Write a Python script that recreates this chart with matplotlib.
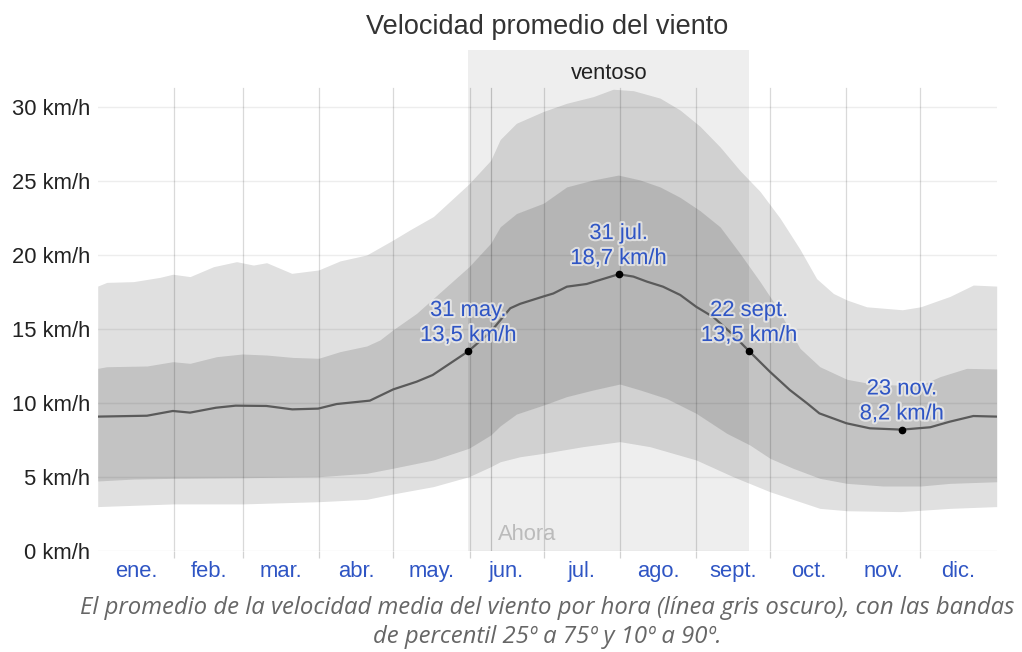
import matplotlib
matplotlib.use("Agg")
import matplotlib.pyplot as plt
import matplotlib.patheffects as pe
import numpy as np

plt.rcParams['font.family'] = ['Liberation Sans', 'DejaVu Sans']

# day of year (0 = 1 ene.) and km/h
mean_days = [0, 20, 30.5, 37.5, 48, 56, 68.5, 79, 89.5, 97, 110.5, 120, 129.5, 136, 150.5,
             159.5, 167.5, 171.5, 181, 185, 190.5, 198.5, 211.5, 217.5, 223, 229.5, 236.5,
             243, 250, 258, 264.5, 273, 281, 288, 293, 304, 313.5, 326.5, 338, 346, 355.5, 365]
mean_kmh = [9.08, 9.14, 9.46, 9.35, 9.68, 9.82, 9.80, 9.57, 9.62, 9.93, 10.16, 10.92, 11.44, 11.89, 13.5,
            14.8, 16.4, 16.7, 17.2, 17.4, 17.86, 18.04, 18.7, 18.54, 18.2, 17.86, 17.3,
            16.5, 15.8, 14.6, 13.5, 12.1, 10.88, 9.98, 9.3, 8.63, 8.29, 8.2, 8.36, 8.74, 9.12, 9.08]

p90_days = [0, 3.7, 14.5, 25.3, 30.5, 37.5, 47, 56.4, 63.2, 68.6, 78.8, 89.7, 98.4, 109.2, 119.8,
            126.8, 136.3, 150.7, 159.6, 163.4, 170, 181, 190.4, 201.2, 209.3, 217.5, 228.3, 236.4,
            244.5, 252.7, 260.8, 268.9, 277, 285.1, 291.9, 298.7, 304.2, 312.2, 326.7, 334.1, 346,
            355.5, 365]
p90_kmh = [17.9, 18.15, 18.2, 18.49, 18.7, 18.54, 19.21, 19.55, 19.32, 19.48, 18.76, 18.99, 19.6, 20.0, 21.0,
           21.7, 22.6, 24.8, 26.4, 27.8, 28.9, 29.7, 30.25, 30.7, 31.2, 31.1, 30.6, 29.8,
           28.7, 27.3, 25.7, 24.3, 22.5, 20.4, 18.4, 17.4, 16.96, 16.5, 16.3, 16.5, 17.2,
           17.97, 17.9]

p75_days = [0, 3.7, 20, 30.5, 37.5, 48.3, 58.7, 68.6, 79.1, 89.7, 98.4, 109.2, 114.6, 119.8, 129.5,
            136.3, 150.7, 159.6, 163.4, 170, 181, 190.4, 201.2, 211.4, 220.2, 228.3, 236.4, 244.5,
            252.7, 260.8, 268.9, 275.7, 285.1, 293.2, 304.2, 314.6, 326.4, 334.1, 342, 352.8, 365]
p75_kmh = [12.34, 12.45, 12.5, 12.79, 12.68, 13.13, 13.31, 13.24, 13.08, 13.02, 13.47, 13.85, 14.26, 14.93, 16.06,
           17.07, 19.2, 20.8, 21.9, 22.8, 23.5, 24.6, 25.07, 25.4, 25.07, 24.6, 23.9, 23.0,
           21.9, 20.1, 18.2, 16.5, 13.7, 12.45, 11.6, 11.28, 11.2, 11.2, 11.78, 12.34, 12.3]

p25_days = [0, 14.5, 30.5, 58.7, 89.7, 109.2, 119.8, 136.3, 150.7, 159.6, 163.4, 170, 181, 190.4,
            201.2, 212, 220.2, 231, 243, 255.4, 264.8, 273, 282.3, 293.2, 304.2, 319, 334.1, 346, 365]
p25_kmh = [4.73, 4.86, 4.91, 4.95, 5.02, 5.25, 5.59, 6.15, 6.94, 7.84, 8.45, 9.25, 9.86, 10.43,
           10.88, 11.28, 10.88, 10.3, 9.3, 7.95, 7.16, 6.26, 5.59, 4.91, 4.57, 4.39, 4.39, 4.57, 4.68]

p10_days = [0, 30.5, 58.7, 89.7, 109.2, 119.8, 136.3, 150.7, 159.6, 163.4, 171.5, 181, 197, 212,
            224.2, 243, 258, 273, 293.2, 304.2, 326, 346, 365]
p10_kmh = [3.0, 3.18, 3.18, 3.33, 3.49, 3.85, 4.35, 5.02, 5.7, 6.03, 6.37, 6.6, 7.05, 7.39,
           7.05, 6.15, 5.02, 4.0, 2.88, 2.72, 2.66, 2.88, 3.0]

month_starts = [0, 31, 59, 90, 120, 151, 181, 212, 243, 273, 304, 334, 365]
month_labels = ["ene.", "feb.", "mar.", "abr.", "may.", "jun.",
                "jul.", "ago.", "sept.", "oct.", "nov.", "dic."]

windy_start, windy_end = 150.5, 264.5
now_day = 159.5

highlights_day = [150.5, 211.5, 264.5, 326.5]
highlights_text = ["31 may.\n13,5 km/h", "31 jul.\n18,7 km/h", "22 sept.\n13,5 km/h", "23 nov.\n8,2 km/h"]

y_ticks = [0, 5, 10, 15, 20, 25, 30]

blue = "#2f55c4"

fig = plt.figure(figsize=(10.22, 6.52), dpi=100)
ax = fig.add_axes([97.7 / 1022, 101 / 652, 899 / 1022, 501 / 652])
ax.set_xlim(0, 365)
ax.set_ylim(0, 33.85)
grid_top = 31.26 / 33.85

# ventoso season
ax.axvspan(windy_start, windy_end, ymin=0, ymax=1, color="#eeeeee", lw=0, zorder=0)
ax.text((windy_start + windy_end) / 2, 32.25, "ventoso", ha="center", va="center",
        fontsize=15.8, color="#222222", zorder=5)

# percentile bands
grid = np.linspace(0, 365, 1461)
p10 = np.interp(grid, p10_days, p10_kmh)
p90 = np.interp(grid, p90_days, p90_kmh)
p25 = np.interp(grid, p25_days, p25_kmh)
p75 = np.interp(grid, p75_days, p75_kmh)
ax.fill_between(grid, p10, p90, color="black", alpha=0.12, lw=0, zorder=1)
ax.fill_between(grid, p25, p75, color="black", alpha=0.13, lw=0, zorder=1)

# grid lines
for v in y_ticks:
    ax.axhline(v, color="black", alpha=0.07, lw=1.0, zorder=2)
for d in month_starts[1:-1]:
    ax.axvline(d, ymin=0, ymax=grid_top, color="black", alpha=0.15, lw=0.9, zorder=2)
ax.axvline(now_day, ymin=0, ymax=grid_top, color="black", alpha=0.2, lw=0.9, zorder=2)
ax.text(now_day + 3, 0.75, "Ahora", ha="left", va="baseline", fontsize=15.8, color="#bbbbbb", zorder=5)

# mean line
ax.plot(mean_days, mean_kmh, color="#5a5a5a", lw=1.6, zorder=3, solid_capstyle="round")

halo = [pe.withStroke(linewidth=3, foreground="#f2f2f2", alpha=0.7)]
for d, t in zip(highlights_day, highlights_text):
    v = np.interp(d, mean_days, mean_kmh)
    ax.plot([d], [v], "o", color="black", ms=4.5, zorder=4)
    ax.text(d, v + 0.35, t, ha="center", va="bottom", fontsize=15.8, color=blue,
            linespacing=1.25, zorder=5, path_effects=halo)

# axes ticks
ax.set_yticks(y_ticks)
ax.set_yticklabels([f"{v} km/h" for v in y_ticks], fontsize=15.8, color="#222222")
ax.tick_params(axis="y", length=0, pad=5.5)
ax.set_xticks(month_starts[1:-1])
ax.set_xticklabels([])
ax.tick_params(axis="x", which="major", length=5, width=0.9, color="#d2d2d2")
mids = [(a + b) / 2 for a, b in zip(month_starts[:-1], month_starts[1:])]
ax.set_xticks(mids, minor=True)
ax.set_xticklabels(month_labels, minor=True, fontsize=15.8, color=blue)
ax.tick_params(axis="x", which="minor", length=0, pad=7.5)
for s in ax.spines.values():
    s.set_visible(False)

fig.text(547.2 / 1022, 1 - 27.5 / 652, "Velocidad promedio del viento", ha="center", va="center",
         fontsize=19.5, color="#333333")
fig.text(547.2 / 1022, 1 - 608 / 652,
         "El promedio de la velocidad media del viento por hora (línea gris oscuro), con las bandas",
         ha="center", va="center", fontsize=17.2, style="italic", color="#666666",
         family=["Open Sans", "DejaVu Sans"])
fig.text(547.2 / 1022, 1 - 637 / 652, "de percentil 25º a 75º y 10º a 90º.",
         ha="center", va="center", fontsize=17.2, style="italic", color="#666666",
         family=["Open Sans", "DejaVu Sans"])

fig.savefig("out.png", dpi=100)
